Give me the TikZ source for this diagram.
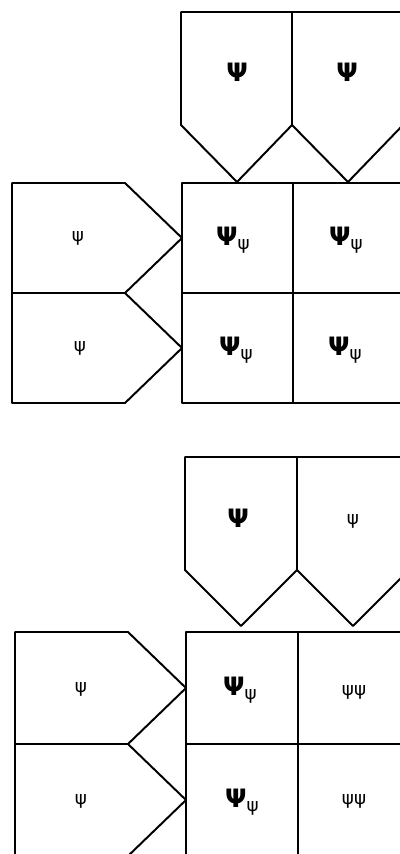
\documentclass[tikz,border=0pt]{standalone}
\usepackage{fontspec}
\setmainfont{DejaVu Sans}
\newcommand{\domPsi}{{\fontsize{18}{20}\selectfont\bfseries Ψ}}
\newcommand{\recPsi}{{\fontsize{13}{15}\selectfont ψ}}
\newcommand{\hetPsi}{\domPsi\raisebox{-2.5pt}{\recPsi}}

\begin{document}
\begin{tikzpicture}[x=0.025cm, y=-0.025cm, line cap=round, line join=round, line width=1.4pt]
			\tikzset{label/.style={inner sep=0pt, anchor=center}}
			\useasboundingbox (0,0) rectangle (400,854);
			\clip (0,0) rectangle (400,854);
			% first cross
			% top gametes
			\draw (181,12) -- (181,125) -- (237,182) -- (292,125) -- (348,182) -- (403,125) -- (403,12) -- cycle;
			\draw (292,12) -- (292,125);
			% left gametes
			\draw (12,183) -- (125,183) -- (182,238) -- (125,293) -- (182,348) -- (125,403) -- (12,403) -- cycle;
			\draw (12,293) -- (125,293);
			% grid
			\draw (182,183) rectangle (404,403);
			\draw (293,183) -- (293,403);
			\draw (182,293) -- (404,293);
			% symbols
			\node[label] (aTopA) at (237,72) {\domPsi};
			\node[label] (aTopB) at (347,72) {\domPsi};
			\node[label] (aLeftA) at (78,238) {\recPsi};
			\node[label] (aLeftB) at (80,348) {\recPsi};
			\node[label] (aCellAA) at (233,240) {\hetPsi};
			\node[label] (aCellAB) at (346,240) {\hetPsi};
			\node[label] (aCellBA) at (236,350) {\hetPsi};
			\node[label] (aCellBB) at (345,350) {\hetPsi};
			% second cross
			% top gametes
			\draw (185,457) -- (185,570) -- (241,626) -- (297,570) -- (353,626) -- (409,570) -- (409,457) -- cycle;
			\draw (297,457) -- (297,570);
			% left gametes
			\draw (15,632) -- (128,632) -- (186,688) -- (128,744) -- (186,800) -- (128,856) -- (15,856) -- cycle;
			\draw (15,744) -- (128,744);
			% grid
			\draw (186,632) rectangle (410,856);
			\draw (298,632) -- (298,856);
			\draw (186,744) -- (410,744);
			% symbols
			\node[label] (bTopA) at (238,518) {\domPsi};
			\node[label] (bTopB) at (353,521) {\recPsi};
			\node[label] (bLeftA) at (81,689) {\recPsi};
			\node[label] (bLeftB) at (81,801) {\recPsi};
			\node[label] (bCellAA) at (240,690) {\hetPsi};
			\node[label] (bCellAB) at (354,692) {\recPsi\recPsi};
			\node[label] (bCellBA) at (242,802) {\hetPsi};
			\node[label] (bCellBB) at (354,801) {\recPsi\recPsi};
		\end{tikzpicture}
\end{document}
